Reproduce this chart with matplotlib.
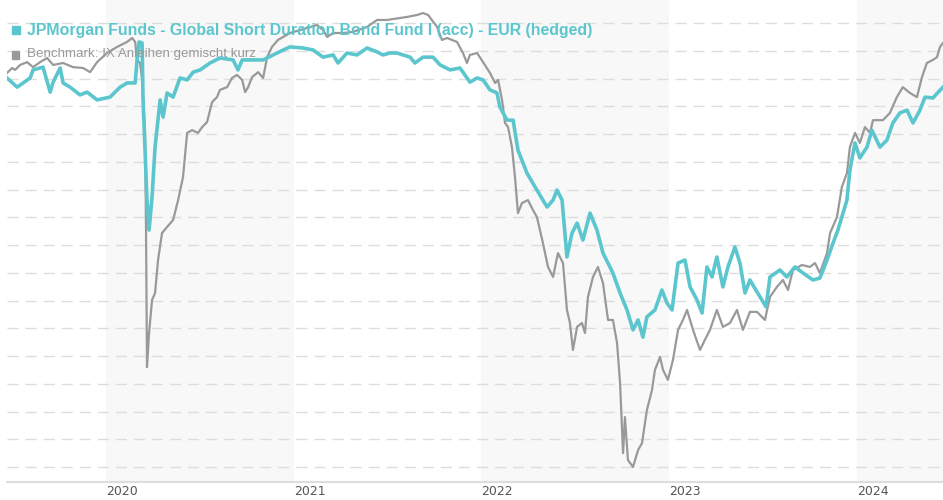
import numpy as np
import matplotlib
matplotlib.use('Agg')
import matplotlib.pyplot as plt
from matplotlib.patches import Rectangle

# Wertentwicklung ueber 5 Jahre (Zeit in Dezimaljahren, Werte in %-Punkten, keine Achsbeschriftung im Original)
fund_t = [2019.472, 2019.526, 2019.558, 2019.595, 2019.611, 2019.664, 2019.702, 2019.718, 2019.755, 2019.771,
          2019.808, 2019.861, 2019.899, 2019.952, 2020.021, 2020.075, 2020.112, 2020.155, 2020.165, 2020.176,
          2020.192, 2020.197, 2020.218, 2020.229, 2020.245, 2020.261, 2020.288, 2020.304, 2020.325, 2020.357,
          2020.394, 2020.432, 2020.464, 2020.501, 2020.554, 2020.607, 2020.677, 2020.703, 2020.725, 2020.837,
          2020.911, 2020.980, 2021.050, 2021.103, 2021.156, 2021.210, 2021.236, 2021.284, 2021.337, 2021.391,
          2021.444, 2021.476, 2021.513, 2021.550, 2021.620, 2021.646, 2021.689, 2021.742, 2021.780, 2021.833,
          2021.886, 2021.939, 2021.977, 2022.009, 2022.046, 2022.083, 2022.099, 2022.137, 2022.169, 2022.195,
          2022.243, 2022.296, 2022.350, 2022.382, 2022.403, 2022.430, 2022.456, 2022.483, 2022.510, 2022.541,
          2022.579, 2022.616, 2022.648, 2022.701, 2022.739, 2022.776, 2022.808, 2022.835, 2022.861, 2022.882,
          2022.925, 2022.962, 2022.989, 2023.016, 2023.048, 2023.085, 2023.112, 2023.149, 2023.176, 2023.202,
          2023.229, 2023.255, 2023.287, 2023.314, 2023.351, 2023.378, 2023.405, 2023.431, 2023.485, 2023.517,
          2023.538, 2023.591, 2023.628, 2023.671, 2023.714, 2023.767, 2023.804, 2023.842, 2023.874, 2023.900,
          2023.927, 2023.948, 2023.964, 2023.991, 2024.017, 2024.055, 2024.081, 2024.124, 2024.161, 2024.193,
          2024.230, 2024.268, 2024.300, 2024.337, 2024.364, 2024.406, 2024.460]
fund_v = [14.02, 13.69, 13.84, 14.02, 14.31, 14.41, 13.51, 13.87, 14.38, 13.84,
          13.69, 13.41, 13.51, 13.23, 13.33, 13.69, 13.84, 13.84, 14.67, 15.32,
          15.28, 13.23, 9.62, 8.54, 9.73, 11.53, 13.23, 12.61, 13.48, 13.33,
          14.02, 13.95, 14.23, 14.31, 14.56, 14.74, 14.67, 14.31, 14.67, 14.67,
          14.92, 15.14, 15.10, 15.03, 14.77, 14.85, 14.56, 14.92, 14.85, 15.10,
          14.96, 14.85, 14.92, 14.92, 14.77, 14.56, 14.77, 14.77, 14.49, 14.31,
          14.38, 13.87, 14.02, 13.95, 13.59, 13.48, 12.97, 12.50, 12.50, 11.42,
          10.59, 9.98, 9.37, 9.62, 9.98, 9.62, 7.57, 8.43, 8.79, 8.18,
          9.15, 8.54, 7.71, 6.99, 6.27, 5.66, 4.94, 5.30, 4.68, 5.41,
          5.66, 6.38, 5.91, 5.66, 7.35, 7.46, 6.49, 6.02, 5.55, 7.21,
          6.85, 7.57, 6.49, 7.21, 7.93, 7.35, 6.27, 6.74, 6.13, 5.77,
          6.85, 7.10, 6.85, 7.21, 6.99, 6.74, 6.81, 7.46, 8.07, 8.54,
          9.15, 9.62, 10.70, 11.68, 11.14, 11.53, 12.14, 11.53, 11.78, 12.40,
          12.76, 12.86, 12.40, 12.86, 13.33, 13.30, 13.69]

bench_t = [2019.472, 2019.499, 2019.515, 2019.542, 2019.579, 2019.611, 2019.648, 2019.686, 2019.718, 2019.771,
           2019.824, 2019.877, 2019.915, 2019.952, 2020.005, 2020.059, 2020.112, 2020.139, 2020.155, 2020.165,
           2020.181, 2020.192, 2020.208, 2020.213, 2020.216, 2020.218, 2020.229, 2020.245, 2020.261, 2020.277,
           2020.298, 2020.325, 2020.357, 2020.384, 2020.410, 2020.432, 2020.458, 2020.490, 2020.512, 2020.538,
           2020.565, 2020.591, 2020.607, 2020.645, 2020.671, 2020.698, 2020.725, 2020.741, 2020.757, 2020.778,
           2020.810, 2020.837, 2020.858, 2020.884, 2020.916, 2020.980, 2021.034, 2021.071, 2021.124, 2021.156,
           2021.178, 2021.210, 2021.263, 2021.316, 2021.391, 2021.444, 2021.497, 2021.566, 2021.604, 2021.657,
           2021.689, 2021.716, 2021.764, 2021.790, 2021.817, 2021.870, 2021.902, 2021.923, 2021.939, 2021.977,
           2022.009, 2022.046, 2022.073, 2022.089, 2022.110, 2022.126, 2022.142, 2022.163, 2022.179, 2022.195,
           2022.216, 2022.248, 2022.275, 2022.296, 2022.328, 2022.355, 2022.382, 2022.408, 2022.435, 2022.456,
           2022.472, 2022.488, 2022.510, 2022.536, 2022.552, 2022.568, 2022.595, 2022.621, 2022.648, 2022.675,
           2022.701, 2022.723, 2022.739, 2022.755, 2022.765, 2022.781, 2022.808, 2022.835, 2022.856, 2022.882,
           2022.909, 2022.925, 2022.952, 2022.968, 2022.994, 2023.021, 2023.048, 2023.074, 2023.096, 2023.128,
           2023.165, 2023.191, 2023.218, 2023.255, 2023.287, 2023.325, 2023.362, 2023.394, 2023.431, 2023.469,
           2023.511, 2023.538, 2023.575, 2023.607, 2023.634, 2023.660, 2023.708, 2023.751, 2023.778, 2023.804,
           2023.842, 2023.858, 2023.895, 2023.921, 2023.948, 2023.964, 2023.991, 2024.017, 2024.044, 2024.071,
           2024.087, 2024.140, 2024.177, 2024.214, 2024.246, 2024.284, 2024.321, 2024.348, 2024.374, 2024.406,
           2024.428, 2024.444, 2024.460]
bench_v = [14.20, 14.38, 14.31, 14.49, 14.59, 14.41, 14.59, 14.74, 14.49, 14.56,
           14.41, 14.38, 14.23, 14.59, 14.92, 15.14, 15.32, 15.46, 15.32, 14.67,
           14.56, 13.95, 12.04, 8.43, 5.41, 3.60, 4.83, 6.02, 6.27, 7.46,
           8.43, 8.65, 8.90, 9.62, 10.45, 12.04, 12.14, 12.04, 12.25, 12.43,
           13.15, 13.33, 13.59, 13.69, 14.02, 14.13, 13.95, 13.51, 13.69, 14.05,
           14.23, 14.02, 14.77, 15.14, 15.39, 15.64, 15.75, 15.82, 15.93, 15.75,
           15.50, 15.64, 15.64, 15.68, 15.86, 16.11, 16.11, 16.18, 16.22, 16.29,
           16.36, 16.29, 15.86, 15.39, 15.46, 15.32, 14.92, 14.56, 14.85, 14.92,
           14.59, 14.20, 13.84, 13.95, 13.23, 12.40, 12.25, 11.53, 10.45, 9.15,
           9.51, 9.62, 9.26, 9.01, 8.07, 7.21, 6.85, 7.71, 7.35, 5.66,
           5.19, 4.22, 5.05, 5.19, 4.83, 6.13, 6.85, 7.21, 6.63, 5.30,
           5.30, 4.47, 3.03, 0.50, 1.80, 0.25, 0.00, 0.61, 0.86, 2.05,
           2.77, 3.50, 3.96, 3.50, 3.14, 3.86, 4.94, 5.30, 5.66, 4.94,
           4.22, 4.58, 4.94, 5.66, 5.05, 5.19, 5.66, 4.94, 5.59, 5.59,
           5.30, 6.13, 6.49, 6.74, 6.38, 7.10, 7.28, 7.21, 7.35, 6.99,
           7.71, 8.43, 9.01, 10.09, 10.59, 11.53, 12.04, 11.68, 12.25, 12.04,
           12.50, 12.50, 12.76, 13.33, 13.69, 13.48, 13.33, 14.05, 14.56, 14.67,
           14.77, 15.14, 15.28]

years = [2020, 2021, 2022, 2023, 2024]
fund_name = 'JPMorgan Funds - Global Short Duration Bond Fund I (acc) - EUR (hedged)'
bench_name = 'Benchmark: IX Anleihen gemischt kurz'

teal = '#5bc6cd'
grey = '#999999'
W, H = 943, 500

fig = plt.figure(figsize=(W / 100, H / 100), dpi=100)
ax = fig.add_axes([7 / W, 18 / H, 1 - 7 / W, 1 - 18 / H])

x0, x1 = 2019.472, 2024.460
ax.set_xlim(x0, x1)
ax.set_ylim(-0.54, 16.83)

# abwechselnd hinterlegte Jahre
for y in years[::2]:
    ax.axvspan(y, min(y + 1, x1), color='#f8f8f8', lw=0, zorder=0)

for k in range(17):
    ax.axhline(k, color='#dddddd', lw=1, ls=(0, (8, 5)), zorder=1)

ax.plot(bench_t, bench_v, color=grey, lw=1.6, zorder=3)
ax.plot(fund_t, fund_v, color=teal, lw=2.6, zorder=4)

for s in ['top', 'right', 'left']:
    ax.spines[s].set_visible(False)
ax.spines['bottom'].set_color('#dddddd')
ax.spines['bottom'].set_linewidth(1.5)
ax.set_yticks([])
ax.set_xticks(years)
ax.set_xticklabels([str(y) for y in years], ha='left', color='#555555', fontsize=9)
ax.tick_params(axis='x', length=0, pad=2)

# Legende oben links
fig.patches.append(Rectangle((12 / W, 1 - 34 / H), 8 / W, 8 / H, transform=fig.transFigure,
                             color=teal, zorder=10))
fig.text(27 / W, 1 - 30 / H, fund_name, color=teal, fontsize=11.4, fontweight='bold',
         family='Liberation Sans', va='center', ha='left', zorder=10)
fig.patches.append(Rectangle((12 / W, 1 - 59 / H), 7 / W, 8 / H, transform=fig.transFigure,
                             color=grey, zorder=10))
fig.text(27 / W, 1 - 54 / H, bench_name, color=grey, fontsize=9.6,
         family='Liberation Sans', va='center', ha='left', zorder=10)

fig.savefig('out.png', dpi=100)
